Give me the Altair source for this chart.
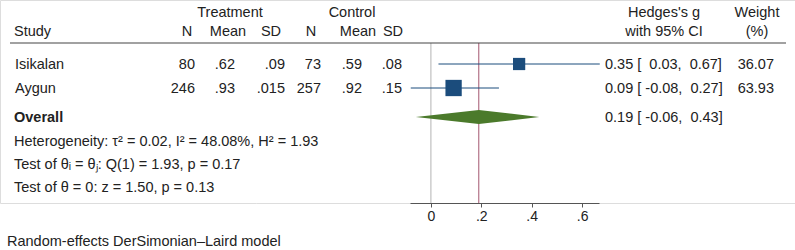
import altair as alt
import pandas as pd

# ---- study-level data -------------------------------------------------------
studies = ["Isikalan", "Aygun"]
n_treat = [80, 246]
mean_treat = [0.62, 0.93]
sd_treat = [0.09, 0.015]
n_ctrl = [73, 257]
mean_ctrl = [0.59, 0.92]
sd_ctrl = [0.08, 0.15]
hedges_g = [0.35, 0.09]
ci_low = [0.03, -0.08]
ci_high = [0.67, 0.27]
weight = [36.07, 63.93]

# ---- pooled random-effects estimate ----------------------------------------
overall_g = 0.19
overall_low = -0.06
overall_high = 0.43

# ---- heterogeneity and tests -----------------------------------------------
tau2 = 0.02
i2 = 48.08
h2 = 1.93
q_stat = 1.93
q_df = 1
q_p = 0.17
z_stat = 1.50
z_p = 0.13

x_ticks = [0, 0.2, 0.4, 0.6]

# ---- layout and style -------------------------------------------------------
FONT = "Liberation Sans"
FS = 14.5
INK = "#222222"
NAVY = "#1b4c7c"
GREEN = "#4b7a2b"
NBSP = "\u00a0"

row_mid = [64, 88]          # vertical centre of each study row
overall_mid = 117           # vertical centre of the pooled row
diamond_half = 7
baseline_shift = 5          # text baseline below the row centre
top_rule_y = 43
axis_y = 203

col_x = {"n_t": 195, "m_t": 235, "sd_t": 285,
         "n_c": 321, "m_c": 362, "sd_c": 402,
         "ci": 605, "w": 774}


def dec(v):
    s = f"{v:g}"
    return s[1:] if s.startswith("0.") else s


def ci_text(g, lo, hi):
    return f"{g:.2f} [{lo:6.2f},{hi:6.2f}]".replace(" ", NBSP)


rows = pd.DataFrame({
    "study": studies,
    "n_t": [str(v) for v in n_treat],
    "m_t": [dec(v) for v in mean_treat],
    "sd_t": [dec(v) for v in sd_treat],
    "n_c": [str(v) for v in n_ctrl],
    "m_c": [dec(v) for v in mean_ctrl],
    "sd_c": [dec(v) for v in sd_ctrl],
    "g": hedges_g,
    "lo": ci_low,
    "hi": ci_high,
    "w": weight,
    "w_txt": [f"{v:.2f}" for v in weight],
    "ci": [ci_text(g, lo, hi) for g, lo, hi in zip(hedges_g, ci_low, ci_high)],
    "ymid": row_mid,
    "ybase": [y + baseline_shift for y in row_mid],
})

x_scale = alt.Scale(domain=[-0.083, 0.667], range=[410, 599], nice=False, zero=False)
x_axis = alt.Axis(
    values=x_ticks,
    labelExpr="datum.value == 0 ? '0' : replace(format(datum.value, '.1f'), '0.', '.')",
    title=None, grid=False, domainColor="#555555", tickColor="#555555",
    tickSize=4, domainWidth=1, tickWidth=1, labelFont=FONT, labelFontSize=14,
    labelColor=INK, labelPadding=2,
)


def X(field):
    return alt.X(f"{field}:Q", scale=x_scale, axis=x_axis)


def Ypx(field):
    return alt.Y(f"{field}:Q", scale=None, axis=None)


def label(text, x, y, align="left", bold=False):
    return alt.Chart(pd.DataFrame({"t": [text]})).mark_text(
        align=align, baseline="alphabetic", font=FONT, fontSize=FS, color=INK,
        fontWeight="bold" if bold else "normal",
    ).encode(x=alt.value(x), y=alt.value(y), text="t:N")


def column(field, x, align="right"):
    return alt.Chart(rows).mark_text(
        align=align, baseline="alphabetic", font=FONT, fontSize=FS, color=INK,
    ).encode(x=alt.value(x), y=Ypx("ybase"), text=f"{field}:N")


# reference lines: null effect and pooled estimate
null_line = alt.Chart(pd.DataFrame({"v": [0]})).mark_rule(
    color="#b4b4b4", strokeWidth=1
).encode(x=X("v"), y=alt.value(top_rule_y), y2=alt.value(axis_y))

pooled_line = alt.Chart(pd.DataFrame({"v": [overall_g]})).mark_rule(
    color="#a3566f", strokeWidth=1
).encode(x=X("v"), y=alt.value(top_rule_y), y2=alt.value(axis_y))

header_rule = alt.Chart(pd.DataFrame({"a": [0]})).mark_rule(
    color="#444444", strokeWidth=1.2
).encode(x=alt.value(10), x2=alt.value(786), y=alt.value(top_rule_y))

# study confidence intervals and weighted squares
ci_lines = alt.Chart(rows).mark_rule(color=NAVY, strokeWidth=1).encode(
    x=X("lo"), x2="hi", y=Ypx("ymid")
)

squares = alt.Chart(rows).mark_square(color=NAVY, opacity=1).encode(
    x=X("g"), y=Ypx("ymid"),
    size=alt.Size("w:Q", scale=alt.Scale(domain=[0, 100], range=[0, 415]), legend=None),
)

# pooled diamond
diamond_df = pd.DataFrame({
    "x": [overall_low, overall_g, overall_high],
    "top": [overall_mid, overall_mid - diamond_half, overall_mid],
    "bot": [overall_mid, overall_mid + diamond_half, overall_mid],
})
diamond = alt.Chart(diamond_df).mark_area(color=GREEN, opacity=1).encode(
    x=X("x"), y=Ypx("top"), y2="bot"
)

texts = [
    # headers
    label("Treatment", 230, 17, "center"),
    label("Control", 352, 17, "center"),
    label("Hedges's g", 664, 17, "center"),
    label("Weight", 757, 17, "center"),
    label("Study", 14, 36, "left"),
    label("N", 187, 36, "center"),
    label("Mean", 228, 36, "center"),
    label("SD", 271, 36, "center"),
    label("N", 311, 36, "center"),
    label("Mean", 358, 36, "center"),
    label("SD", 393, 36, "center"),
    label("with 95% CI", 664, 36, "center"),
    label("(%)", 757, 36, "center"),
    # study rows
    column("study", 15, "left"),
    column("n_t", col_x["n_t"]),
    column("m_t", col_x["m_t"]),
    column("sd_t", col_x["sd_t"]),
    column("n_c", col_x["n_c"]),
    column("m_c", col_x["m_c"]),
    column("sd_c", col_x["sd_c"]),
    column("ci", col_x["ci"], "left"),
    column("w_txt", col_x["w"]),
    # pooled row and statistics
    label("Overall", 14, overall_mid + baseline_shift, "left", bold=True),
    label(ci_text(overall_g, overall_low, overall_high), col_x["ci"],
          overall_mid + baseline_shift, "left"),
    label(f"Heterogeneity: \u03c4\u00b2 = {tau2:.2f}, I\u00b2 = {i2:.2f}%, H\u00b2 = {h2:.2f}",
          14, 146, "left"),
    label(f"Test of \u03b8\u1d62 = \u03b8\u2c7c: Q({q_df}) = {q_stat:.2f}, p = {q_p:.2f}",
          14, 169, "left"),
    label(f"Test of \u03b8 = 0: z = {z_stat:.2f}, p = {z_p:.2f}", 14, 192, "left"),
    label("Random-effects DerSimonian\u2013Laird model", 7, 246, "left"),
]

chart = alt.layer(
    null_line, pooled_line, header_rule, ci_lines, squares, diamond, *texts
).properties(
    width=795,
    height=axis_y,
    autosize=alt.AutoSizeParams(type="none"),
    padding={"left": 0, "right": 0, "top": 0, "bottom": 250 - axis_y},
).configure_view(stroke=None).configure(background="white")

chart.save("out.html", embed_options={"renderer": "svg", "actions": False})
